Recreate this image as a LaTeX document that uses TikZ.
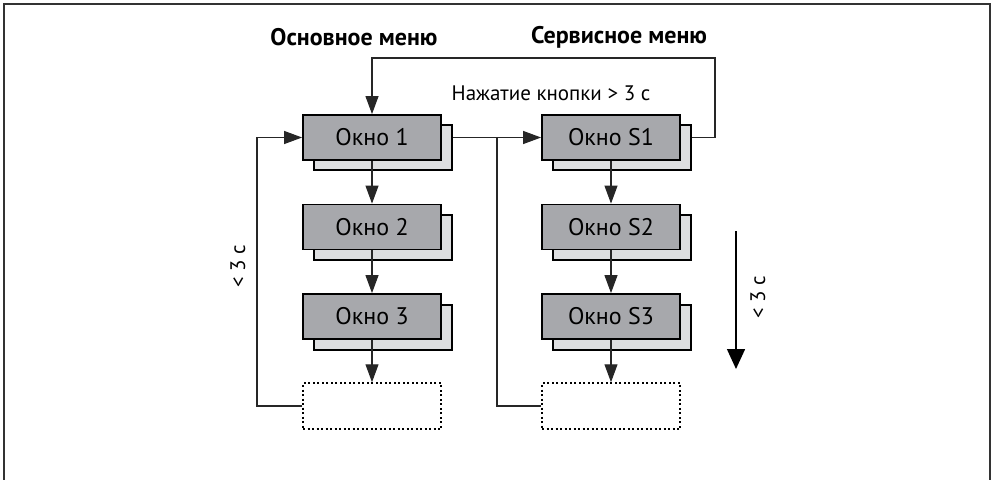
\documentclass[tikz,border=0pt]{standalone}
\usepackage{fontspec}
\setmainfont{PT Sans}
\usetikzlibrary{arrows.meta}
\definecolor{mgray}{RGB}{167,168,172}
\definecolor{sgray}{RGB}{221,222,224}
\begin{document}
\begin{tikzpicture}[x=1pt,y=-1pt,
 mainbox/.style={draw=black, line width=1.8pt, fill=mgray, minimum width=138pt, minimum height=45pt, inner sep=0pt, font=\fontsize{24}{27}\selectfont},
 shadowbox/.style={draw=black, line width=1.5pt, fill=sgray, minimum width=138pt, minimum height=45pt, inner sep=0pt},
 dotbox/.style={draw=black, line width=1.5pt, dash pattern=on 2pt off 2.5pt, minimum width=138pt, minimum height=46pt, inner sep=0pt},
 conn/.style={draw=black!85, line width=1.1pt},
 arr/.style={conn, -{Triangle[length=18pt,width=13pt]}},
 title/.style={font=\fontsize{24}{27}\selectfont\bfseries, inner sep=0pt},
 lbl/.style={font=\fontsize{21}{24}\selectfont, inner sep=0pt},
]
\useasboundingbox (0,0) rectangle (992,479);
\draw[line width=1.5pt, black!80] (4,480) -- (4,4) -- (990,4) -- (990,480);

% shadows
\node[shadowbox] (s1) at (383,147.5) {};
\node[shadowbox] (s2) at (383,237.5) {};
\node[shadowbox] (s3) at (383,327.5) {};
\node[shadowbox] (sS1) at (622,147.5) {};
\node[shadowbox] (sS2) at (622,237.5) {};
\node[shadowbox] (sS3) at (622,327.5) {};
% main boxes
\node[mainbox] (b1) at (372,137.5) {Окно 1};
\node[mainbox] (b2) at (372,227) {Окно 2};
\node[mainbox] (b3) at (372,316.5) {Окно 3};
\node[mainbox] (bS1) at (611,137.5) {Окно S1};
\node[mainbox] (bS2) at (611,227) {Окно S2};
\node[mainbox] (bS3) at (611,316.5) {Окно S3};
\node[dotbox] (d1) at (372,406) {};
\node[dotbox] (dS) at (611,406) {};

% titles and labels
\node[title] (t1) at (354,37) {Основное меню};
\node[title] (t2) at (619,37) {Сервисное меню};
\node[lbl] (lab) at (551,93) {Нажатие кнопки > 3 с};
\node[lbl, rotate=90] (l1) at (238,266) {< 3 с};
\node[lbl, rotate=90] (l2) at (758,297) {< 3 с};

% connectors
\draw[arr] (b1) -- (b2);
\draw[arr] (b2) -- (b3);
\draw[arr] (b3) -- (d1);
\draw[arr] (bS1) -- (bS2);
\draw[arr] (bS2) -- (bS3);
\draw[arr] (bS3) -- (dS);
\draw[arr] (b1.east -| s1.east) -- (bS1.west);
\coordinate (cTR) at (715,58);
\draw[arr] (bS1.east -| sS1.east) -| (cTR) -| (b1.north);
\coordinate (br) at (497,137.5);
\draw[conn] (br) |- (dS.west);
\coordinate (cL) at (257,300);
\draw[arr] (d1.west) -| (cL) |- (b1.west);
\coordinate (ra1) at (736,231);
\coordinate (ra2) at (736,369);
\draw[line width=1.5pt, -{Triangle[length=20pt,width=18pt]}] (ra1) -- (ra2);
\end{tikzpicture}
\end{document}
